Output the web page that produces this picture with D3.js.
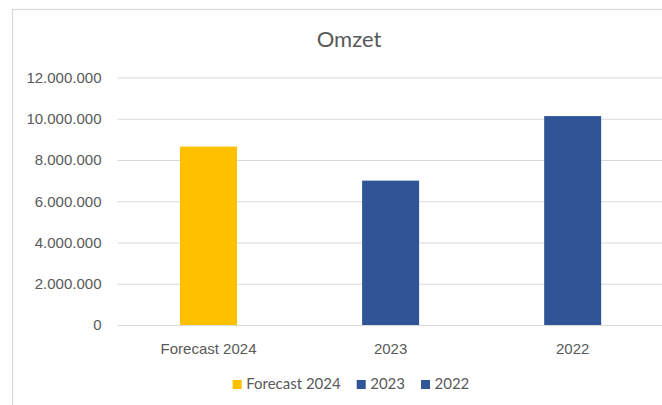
<!DOCTYPE html>
<html>
<head>
<meta charset="utf-8">
<script src="https://cdn.jsdelivr.net/npm/d3@7"></script>
<style>
  html, body { margin: 0; padding: 0; background: #fff; }
  svg { display: block; font-family: Lato, "Open Sans", sans-serif; }
</style>
</head>
<body>
<svg id="chart" width="662" height="405"></svg>
<script>
const title = "Omzet";
const categories = ["Forecast 2024", "2023", "2022"];
const values = [8650000, 7000000, 10130000];
const colors = ["#FFC000", "#2F5597", "#2F5597"];
const yTicks = [0, 2000000, 4000000, 6000000, 8000000, 10000000, 12000000];

const W = 662, H = 405;
const svg = d3.select("#chart");
const textColor = "#595959";
const gridColor = "#D9D9D9";

// chart area border (cropped on right and bottom)
svg.append("rect")
  .attr("x", 12.5).attr("y", 9.5)
  .attr("width", 700).attr("height", 420)
  .attr("fill", "#fff").attr("stroke", gridColor).attr("stroke-width", 1.2);

const plot = { left: 117.5, right: 663.7, top: 77.5, bottom: 325 };

const y = d3.scaleLinear().domain([0, 12000000]).range([plot.bottom, plot.top]);
const x = d3.scaleBand().domain(categories)
  .range([plot.left, plot.right])
  .paddingInner(0.687).paddingOuter(0.3435);

const locale = d3.formatLocale({ decimal: ",", thousands: ".", grouping: [3], currency: ["", ""] });
const fmt = locale.format(",d");

// title
svg.append("text")
  .attr("x", 349).attr("y", 46.7)
  .attr("text-anchor", "middle")
  .attr("fill", textColor)
  .style("font-size", "22px")
  .text(title);

// y axis (gridlines + labels)
const yAxis = d3.axisLeft(y).tickValues(yTicks).tickFormat(fmt)
  .tickSize(-(plot.right - plot.left)).tickPadding(15);
const gy = svg.append("g").attr("transform", `translate(${plot.left},0)`).call(yAxis);
gy.select(".domain").remove();
gy.selectAll(".tick line").attr("stroke", gridColor).attr("stroke-width", 1.2);
gy.selectAll(".tick text").attr("fill", textColor).style("font-size", "15px")
  .attr("x", -16);

// bars
svg.append("g").selectAll("rect")
  .data(categories)
  .join("rect")
  .attr("x", (d) => x(d))
  .attr("width", x.bandwidth())
  .attr("y", (d, i) => y(values[i]))
  .attr("height", (d, i) => y(0) - y(values[i]))
  .attr("fill", (d, i) => colors[i]);

// x axis
const xAxis = d3.axisBottom(x).tickSize(0).tickPadding(18);
const gx = svg.append("g").attr("transform", `translate(0,${plot.bottom})`).call(xAxis);
gx.select(".domain").attr("stroke", gridColor).attr("stroke-width", 1.2);
gx.selectAll(".tick text").attr("fill", textColor).style("font-size", "15px");

// legend
const legend = svg.append("g");
const items = legend.selectAll("g").data(categories).join("g");
items.append("rect").attr("width", 9).attr("height", 9).attr("y", -9)
  .attr("fill", (d, i) => colors[i]);
items.append("text").attr("x", 13.5).attr("y", 0)
  .attr("fill", textColor).style("font-size", "15px").text((d) => d);
let cx = 0;
items.each(function () {
  const g = d3.select(this);
  g.attr("transform", `translate(${cx},0)`);
  const tw = g.select("text").node().getComputedTextLength();
  cx += 13.5 + tw + 16;
});
const totalW = cx - 16;
legend.attr("transform", `translate(${351 - totalW / 2},389)`);
</script>
</body>
</html>
